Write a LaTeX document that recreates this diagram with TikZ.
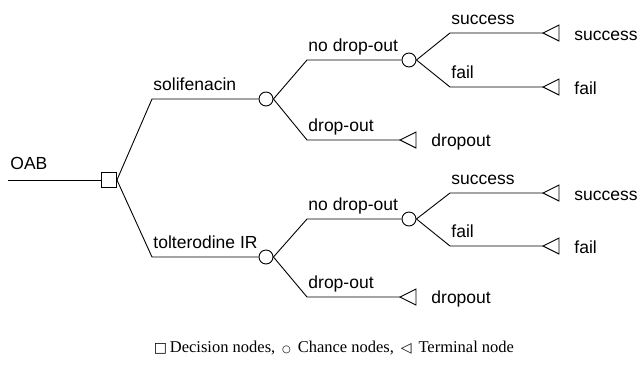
\documentclass[tikz,border=0pt]{standalone}
\usepackage{fontspec}
\setmainfont{Liberation Sans}
\newfontfamily\legendfont{Liberation Serif}
\newfontfamily\symfont{DejaVu Sans}
\begin{document}
\begin{tikzpicture}[x=1pt,y=-1pt, line width=0.9pt,
  lbl/.style={anchor=base west, inner sep=0pt, font=\fontsize{17.5}{20}\selectfont},
  decbox/.style={draw, rectangle, minimum size=15pt, inner sep=0pt},
  chance/.style={draw, circle, minimum size=14pt, inner sep=0pt},
  termtri/.style={draw, line join=miter},
  legend/.style={inner sep=0pt, font=\legendfont\fontsize{16.5}{20}\selectfont}
]
\useasboundingbox (0,0) rectangle (644,370);

% root
\coordinate (start) at (8,180);
\node[decbox] (d) at (109,180) {};
\draw (start) -- (d.west);
\node[lbl] (lOAB) at (10,169) {OAB};

% chance nodes
\node[chance] (c1) at (266,99) {};
\node[chance] (c2) at (409,60) {};
\node[chance] (c3) at (266,257) {};
\node[chance] (c4) at (409,219) {};

% bend coordinates
\coordinate (b1) at (152,99);
\coordinate (b3) at (152,257);
\coordinate (b2) at (307,60);
\coordinate (b2d) at (307,140);
\coordinate (b4) at (307,219);
\coordinate (b4d) at (307,297);
\coordinate (s1) at (450,33);
\coordinate (f1) at (450,87);
\coordinate (s2) at (450,193);
\coordinate (f2) at (450,246);

% terminal tips
\coordinate (t1) at (543,33);
\coordinate (t2) at (543,87);
\coordinate (t3) at (400,140);
\coordinate (t4) at (543,193);
\coordinate (t5) at (543,246);
\coordinate (t6) at (400,297);
\foreach \t in {t1,t2,t3,t4,t5,t6}{
  \draw[termtri] (\t) -- ++(16,-8) -- ++(0,16) -- cycle;
}

% connectors
\draw (d.east) -- (b1) -- (c1.west);
\draw (d.east) -- (b3) -- (c3.west);
\draw (c1.east) -- (b2) -- (c2.west);
\draw (c1.east) -- (b2d) -- (t3);
\draw (c2.east) -- (s1) -- (t1);
\draw (c2.east) -- (f1) -- (t2);
\draw (c3.east) -- (b4) -- (c4.west);
\draw (c3.east) -- (b4d) -- (t6);
\draw (c4.east) -- (s2) -- (t4);
\draw (c4.east) -- (f2) -- (t5);

% branch labels
\node[lbl] (l1) at (153,90) {solifenacin};
\node[lbl] (l2) at (153,248) {tolterodine IR};
\node[lbl] (l3) at (308,51) {no drop-out};
\node[lbl] (l4) at (308,131) {drop-out};
\node[lbl] (l5) at (308,210) {no drop-out};
\node[lbl] (l6) at (308,288) {drop-out};
\node[lbl] (l7) at (451,24) {success};
\node[lbl] (l8) at (451,78) {fail};
\node[lbl] (l9) at (451,184) {success};
\node[lbl] (l10) at (451,237) {fail};

% terminal labels
\node[lbl] (e1) at (574,40) {success};
\node[lbl] (e2) at (574,94) {fail};
\node[lbl] (e3) at (431,146) {dropout};
\node[lbl] (e4) at (574,200) {success};
\node[lbl] (e5) at (574,253) {fail};
\node[lbl] (e6) at (431,303) {dropout};

% legend
\node[legend] (leg) at (334,348) {{\symfont\fontsize{14}{16}\selectfont □}\,Decision nodes, \,{\symfont\fontsize{10}{16}\selectfont ○}\, Chance nodes, \,{\symfont\fontsize{14}{16}\selectfont ◁}\, Terminal node};
\end{tikzpicture}
\end{document}
